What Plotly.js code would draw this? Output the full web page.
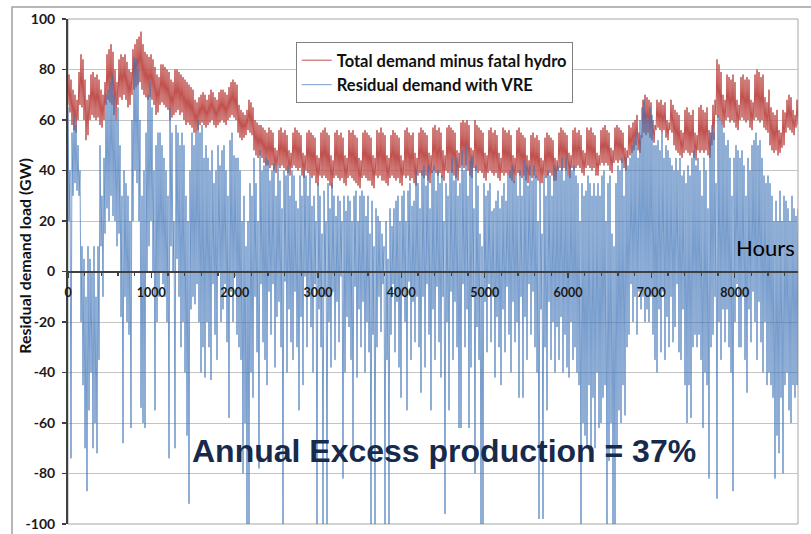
<!DOCTYPE html>
<html>
<head>
<meta charset="utf-8">
<script src="https://cdn.plot.ly/plotly-3.0.1.min.js"></script>
<style>
  html, body { margin: 0; padding: 0; background: #ffffff; }
  #chart { width: 811px; height: 534px; }
</style>
</head>
<body>
<div id="chart"></div>
<script>
// ---- Data ----
// One value every 12 hours (night, midday, night, midday ...); each row is one week.
const HOURS_PER_STEP = 12;

const seriesNames = ["Total demand minus fatal hydro", "Residual demand with VRE"];

// Total demand minus fatal hydro (GW)
const totalDemandMinusHydro = [
  66,78, 63,76, 58,72, 56,70, 55,68, 60,79, 66,86,
  65,84, 60,76, 52,68, 54,70, 60,78, 62,79, 61,77,
  60,78, 61,76, 58,72, 57,70, 60,75, 66,86, 68,88,
  67,90, 66,87, 62,80, 60,75, 66,84, 69,86, 68,85,
  70,86, 68,83, 65,80, 66,79, 70,88, 72,90, 73,92,
  74,93, 75,95, 72,90, 70,87, 69,86, 68,85, 69,86,
  68,84, 66,81, 62,78, 63,77, 66,82, 67,82, 66,81,
  65,80, 64,79, 60,76, 61,75, 62,80, 63,80, 64,79,
  62,78, 63,77, 60,76, 58,75, 59,74, 58,73, 57,72,
  55,68, 55,67, 56,69, 58,70, 59,71, 58,70, 57,68,
  58,70, 59,72, 60,71, 58,69, 57,68, 58,71, 59,72,
  60,72, 59,71, 58,70, 60,73, 61,75, 62,76, 61,75,
  60,74, 55,66, 53,64, 52,63, 53,62, 54,64, 56,68,
  55,67, 54,65, 48,60, 46,59, 45,58, 46,58, 45,57,
  43,56, 42,55, 42,57, 41,56, 42,55, 40,49, 39,48,
  42,56, 41,57, 42,55, 41,56, 40,54, 39,48, 38,47,
  41,55, 42,57, 41,56, 40,55, 41,54, 38,47, 37,46,
  40,55, 39,56, 38,55, 37,54, 38,53, 35,46, 34,45,
  38,55, 37,56, 38,57, 37,55, 36,54, 34,46, 33,44,
  37,55, 38,56, 37,54, 36,55, 37,53, 35,46, 34,45,
  37,56, 38,55, 37,56, 36,54, 35,53, 34,45, 33,44,
  37,55, 38,56, 37,55, 36,54, 36,53, 34,46, 33,45,
  38,56, 37,55, 38,57, 36,55, 36,54, 35,46, 34,45,
  37,54, 38,56, 37,55, 36,54, 37,53, 35,46, 34,44,
  38,56, 37,57, 38,55, 36,54, 37,55, 35,47, 34,45,
  38,55, 39,57, 38,56, 37,55, 38,54, 36,47, 35,46,
  39,57, 40,58, 39,56, 38,57, 39,55, 37,48, 36,46,
  40,57, 39,58, 40,57, 39,56, 38,55, 37,48, 36,47,
  41,59, 42,60, 41,59, 42,60, 40,58, 38,49, 37,48,
  41,60, 40,58, 39,57, 40,56, 39,55, 37,47, 36,46,
  39,56, 40,57, 39,55, 38,56, 39,54, 37,47, 36,45,
  39,57, 38,56, 39,55, 38,56, 37,54, 36,46, 35,45,
  38,56, 39,57, 38,55, 37,54, 38,53, 36,46, 35,44,
  38,54, 37,55, 38,53, 37,54, 36,52, 35,45, 35,44,
  38,53, 37,55, 38,54, 39,53, 38,52, 36,45, 36,44,
  40,55, 41,57, 40,56, 41,55, 40,54, 38,47, 37,46,
  41,56, 40,57, 41,55, 42,56, 41,54, 39,48, 38,47,
  41,57, 42,56, 41,57, 40,55, 41,54, 38,47, 38,46,
  42,56, 43,57, 42,58, 43,56, 42,55, 40,49, 39,48,
  43,57, 44,58, 43,57, 44,56, 43,55, 41,49, 40,48,
  45,58, 46,57, 47,59, 48,60, 50,62, 48,55, 47,54,
  53,68, 55,70, 54,69, 55,68, 53,67, 52,60, 51,58,
  56,68, 57,67, 56,68, 55,66, 56,67, 53,60, 52,59,
  56,68, 55,66, 50,64, 48,63, 47,62, 46,56, 45,55,
  47,64, 48,65, 47,63, 46,62, 47,64, 45,55, 44,54,
  48,65, 47,66, 48,64, 47,63, 48,65, 46,56, 45,55,
  50,66, 52,68, 62,84, 61,82, 60,79, 58,70, 57,68,
  60,78, 61,77, 59,76, 60,78, 59,75, 57,68, 56,66,
  60,77, 61,78, 60,76, 59,77, 60,76, 57,68, 56,67,
  60,78, 61,80, 60,79, 59,77, 60,78, 57,69, 56,67,
  55,72, 50,65, 48,63, 47,62, 48,64, 46,56, 47,55,
  49,64, 50,63, 55,68, 57,70, 56,69, 55,64, 54,62,
  57,68, 58
];

// Residual demand with VRE (GW)
const residualDemandVRE = [
  65,20, 40,-74, 55,30, 62,35, 58,32, 50,30, 40,-20,
  10,-45, 5,-70, -10,-87, 10,-55, 5,-40, 0,-70, 10,-60,
  -10,-72, 10,-35, 50,10, 30,-10, 45,15, 70,25, 72,20,
  75,30, 78,22, 70,20, 60,10, 65,15, 50,-18, 30,-68,
  40,-10, 35,-20, 30,-25, 20,-62, 60,20, 85,40, 84,35,
  80,20, 60,-54, 30,-60, 40,-62, 55,0, 70,10, 75,20,
  65,0, 40,-55, 50,-20, 55,-10, 55,0, 50,-5, 45,-10,
  40,-20, 30,-74, 65,10, 55,0, 20,-70, 58,5, 55,-10,
  50,-30, 55,-20, 50,-40, 30,-65, 20,-92, 40,-15, 55,-10,
  50,-13, 55,-5, 60,-20, 55,-40, 58,-30, 45,-42, 50,-20,
  45,-30, 40,-43, 48,-5, 35,-25, 40,-35, 50,0, 42,-20,
  48,-15, 50,-5, 40,-28, 30,-58, 52,-8, 55,-20, 46,-2,
  45,-25, 45,-30, 40,-35, 20,-80, 30,-60, 10,-100, 20,-100,
  35,-40, 30,-50, 45,-10, 35,-32, 20,-78, 48,-5, 40,-28,
  42,-35, 45,-45, 44,-8, 36,-25, 40,-5, 43,-38, 30,-18,
  42,-12, 36,-30, 25,-100, 40,-4, 38,-40, 42,-15, 30,-28,
  40,-35, 38,-8, 28,-30, 25,-55, 38,-18, 30,-45, 40,-2,
  38,-30, 30,-10, 38,-22, 26,-40, 30,-5, 20,-100, 35,-15,
  30,-30, 15,-100, 32,-10, 20,-100, 35,-20, 25,-38, 35,-8,
  30,-35, 22,-12, 30,-28, 28,-2, 20,-82, 30,-40, 24,-18,
  30,-22, 28,-35, 20,-70, 30,-6, 32,-42, 20,-15, 30,-30,
  32,-12, 30,-40, 22,-20, 30,-32, 15,-100, 28,-25, 10,-100,
  25,-30, 22,-10, 20,-24, 15,-5, 10,-100, 20,-35, 5,-100,
  25,-25, 18,-5, 25,-32, 28,-12, 30,-38, 20,-50, 30,-8,
  32,-20, 20,-55, 32,-4, 35,-35, 26,-12, 28,-28, 40,-10,
  35,-30, 25,-48, 40,-10, 42,-38, 34,-5, 42,-25, 25,-55,
  40,-15, 42,-35, 32,-6, 40,-28, 35,-42, 38,-10, 20,-96,
  35,-20, 30,-55, 40,-8, 45,-35, 36,-12, 45,-30, 30,-62,
  35,-62, 48,-5, 40,-30, 50,-15, 30,-62, 44,-38, 46,-10,
  25,-80, 42,-22, 34,-35, 15,-100, 10,-100, 35,-12, 30,-32,
  32,-5, 35,-28, 24,-10, 25,-42, 28,-18, 32,-30, 25,-45,
  30,-15, 35,-32, 28,-6, 38,-25, 40,-40, 42,-12, 36,-28,
  38,-20, 30,-50, 40,-10, 30,-50, 44,-18, 42,-35, 34,-5,
  42,-25, 36,-8, 42,-30, 38,-40, 20,-98, 35,-15, 15,-98,
  38,-30, 30,-55, 40,-12, 38,-35, 30,-20, 42,-40, 40,-22,
  42,-35, 40,-18, 45,-40, 36,-25, 45,-38, 38,-42, 42,-20,
  40,-35, 42,-30, 38,-40, 35,-45, 20,-100, 35,-60, 30,-65,
  32,-70, 38,-45, 35,-75, 30,-50, 35,-70, 30,-40, 35,-62,
  30,-60, 38,-50, 40,-45, 20,-100, 35,-75, 38,-60, 15,-100,
  10,-100, 35,-70, 42,-55, 40,-60, 45,-45, 30,-57, 45,-30,
  42,-25, 45,-5, 50,-20, 52,-10, 55,-25, 45,-8, 60,-15,
  65,-10, 68,-20, 62,-15, 60,-20, 65,-10, 62,-25, 50,-35,
  50,-40, 52,-15, 48,-32, 55,-8, 45,-35, 50,-18, 48,-30,
  45,-10, 42,-28, 40,-22, 45,-5, 40,-32, 45,-35, 38,-15,
  40,-45, 35,-60, 42,-45, 38,-58, 45,-30, 48,-25, 42,-30,
  45,-25, 40,-35, 30,-62, 45,-40, 40,-45, 25,-82, 55,-30,
  58,-25, 55,-10, 35,-90, 62,-20, 60,-35, 58,-15, 55,-28,
  50,-15, 52,-30, 45,-40, 30,-87, 45,-20, 50,-5, 48,-30,
  45,-30, 48,-10, 42,-35, 30,-48, 45,-15, 40,-28, 50,-8,
  52,-20, 55,-35, 50,-12, 52,-28, 45,-40, 38,-20, 35,-45,
  38,-40, 35,-45, 30,-50, 20,-82, 28,-65, 20,-72, 32,-50,
  20,-80, 30,-45, 28,-40, 25,-55, 20,-60, 30,-45, 25,-50,
  22,-45, 25
];

const xTickValues = [0, 1000, 2000, 3000, 4000, 5000, 6000, 7000, 8000];
const yTickValues = [-100, -80, -60, -40, -20, 0, 20, 40, 60, 80, 100];

const axisTitleY = "Residual demand load (GW)";
const axisLabelX = "Hours";
const noteText = "Annual Excess production = 37%";

// ---- Build ----
const hoursOf = arr => arr.map((_, i) => i * HOURS_PER_STEP);

const traces = [
  {
    type: "scatter", mode: "lines", name: seriesNames[0],
    x: hoursOf(totalDemandMinusHydro), y: totalDemandMinusHydro,
    line: { color: "#c0504d", width: 1.0 }
  },
  {
    type: "scatter", mode: "lines", name: seriesNames[1],
    x: hoursOf(residualDemandVRE), y: residualDemandVRE,
    line: { color: "#3f74b8", width: 0.7 }
  }
];

const FONT = "Lato, 'Open Sans', sans-serif";

const layout = {
  width: 811, height: 534,
  margin: { l: 68, r: 13, t: 19, b: 10, pad: 0 },
  paper_bgcolor: "#ffffff", plot_bgcolor: "#ffffff",
  showlegend: true,
  legend: {
    x: 0.312, y: 0.9545, xanchor: "left", yanchor: "top",
    bgcolor: "#ffffff", bordercolor: "#7f7f7f", borderwidth: 1,
    font: { family: FONT, size: 16.5, color: "#111111", weight: "bold" },
    itemwidth: 30, tracegroupgap: 0
  },
  xaxis: {
    range: [0, 8760], anchor: "free", position: 0.5,
    tickvals: xTickValues, ticktext: xTickValues.map(String),
    showgrid: false, zeroline: false,
    showline: true, linecolor: "#404040", linewidth: 2,
    ticks: "outside", ticklen: 5, tickwidth: 1.5, tickcolor: "#404040",
    minor: { dtick: 200, ticks: "outside", ticklen: 3, tickwidth: 1.5, tickcolor: "#404040", showgrid: false },
    ticklabelstandoff: 4,
    tickfont: { family: FONT, size: 12.5, color: "#1a1a1a", weight: "bold" }
  },
  yaxis: {
    range: [-100, 100], tickvals: yTickValues, ticktext: yTickValues.map(String),
    showgrid: true, gridcolor: "#c4c4c4", gridwidth: 1, zeroline: false,
    showline: true, linecolor: "#404040", linewidth: 2,
    ticks: "outside", ticklen: 4, tickwidth: 1.5, tickcolor: "#404040",
    ticklabelstandoff: 4,
    tickfont: { family: FONT, size: 14, color: "#1a1a1a", weight: "bold" }
  },
  shapes: [
    { type: "rect", xref: "paper", yref: "paper", x0: 0, x1: 1, y0: 0, y1: 1,
      line: { color: "#a6a6a6", width: 1 }, layer: "below" },
    { type: "rect", xref: "paper", yref: "paper", x0: -0.0767, x1: 1.03, y0: -0.04, y1: 1.0238,
      line: { color: "#a0a0a0", width: 1.5 }, layer: "below" }
  ],
  annotations: [
    { text: axisTitleY, xref: "paper", yref: "paper", x: -0.0589, y: 0.531,
      xanchor: "center", yanchor: "middle", textangle: -90, showarrow: false,
      font: { family: FONT, size: 16, color: "#111111", weight: "bold" } },
    { text: axisLabelX, xref: "paper", yref: "paper", x: 0.956, y: 0.5485,
      xanchor: "center", yanchor: "middle", showarrow: false,
      font: { family: FONT, size: 22, color: "#000000" } },
    { text: noteText, xref: "paper", yref: "paper", x: 0.515, y: 0.144,
      xanchor: "center", yanchor: "middle", showarrow: false,
      font: { family: "'Liberation Sans', Arial, sans-serif", size: 32, color: "#172a4c", weight: "bold" } }
  ]
};

Plotly.newPlot("chart", traces, layout, { staticPlot: true, displayModeBar: false });
</script>
</body>
</html>
